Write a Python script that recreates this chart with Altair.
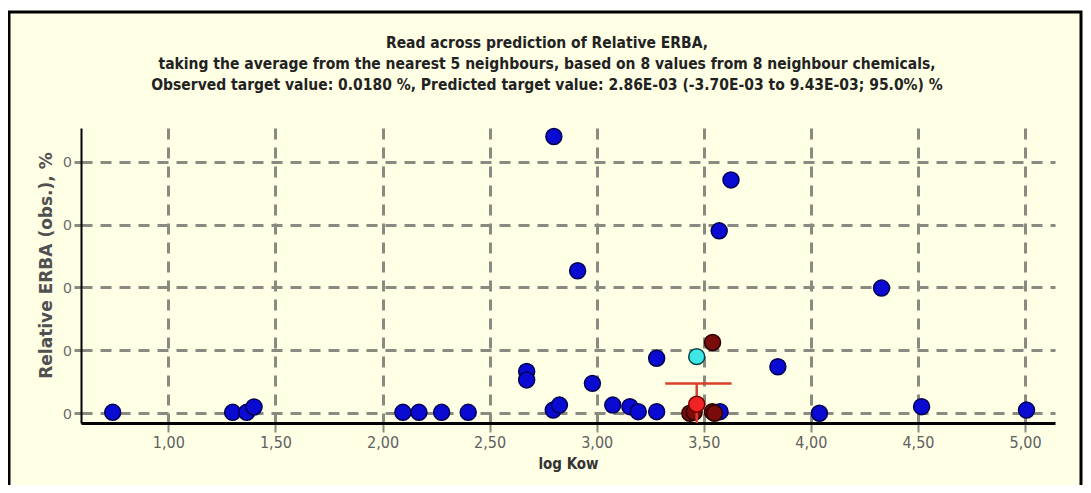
import altair as alt
import pandas as pd

# ---- data ----
blue_x = [0.74, 1.30, 1.366, 1.40, 2.095, 2.17, 2.276, 2.40, 2.673, 2.673,
          2.80, 2.797, 2.826, 2.911, 2.98, 3.075, 3.155, 3.194, 3.28, 3.28,
          3.572, 3.627, 3.576, 3.846, 4.04, 4.33, 4.517, 5.007]
blue_y = [0.0003, 0.0003, 0.0003, 0.002, 0.0003, 0.0003, 0.0003, 0.0003, 0.0133, 0.0106,
          0.088, 0.001, 0.0026, 0.0453, 0.0095, 0.0026, 0.0021, 0.0005, 0.0005, 0.0175,
          0.058, 0.0742, 0.0005, 0.0148, 0.0, 0.0398, 0.0021, 0.001]

neigh_x = [3.435, 3.455, 3.54, 3.55, 3.541]
neigh_y = [0.0, 0.0003, 0.0005, 0.0, 0.0225]

obs_x = [3.467]
obs_y = [0.0180]

pred_x = [3.467]
pred_y = [0.00286]
pred_lo = [-0.0037]
pred_hi = [0.00943]
cap_x1 = [3.32]
cap_x2 = [3.63]

x_ticks = [1.0, 1.5, 2.0, 2.5, 3.0, 3.5, 4.0, 4.5, 5.0]
y_ticks = [0.0, 0.02, 0.04, 0.06, 0.08]

title_lines = [
    "Read across prediction of Relative ERBA,",
    "taking the average from the nearest 5 neighbours, based on 8 values from 8 neighbour chemicals,",
    "Observed target value: 0.0180 %, Predicted target value: 2.86E-03 (-3.70E-03 to 9.43E-03; 95.0%) %",
]

# ---- tables ----
blue = pd.DataFrame({"x": blue_x, "y": blue_y})
neigh = pd.DataFrame({"x": neigh_x, "y": neigh_y})
obs = pd.DataFrame({"x": obs_x, "y": obs_y})
pred = pd.DataFrame({"x": pred_x, "y": pred_y, "lo": pred_lo, "hi": pred_hi,
                     "c1": cap_x1, "c2": cap_x2})
title_df = pd.DataFrame({"t": ["\n".join(title_lines)]})

W, H = 974, 295
BG = "#FFFFE6"
GRID = "#8a8a80"
COND = "Liberation Sans Narrow, DejaVu Sans Condensed, sans-serif"

xscale = alt.Scale(domain=[0.592, 5.14], nice=False, zero=False)
yscale = alt.Scale(domain=[-0.0031, 0.0907], nice=False, zero=False)

xaxis = alt.Axis(
    title="log Kow", values=x_ticks,
    labelExpr="replace(format(datum.value, '.2f'), '.', ',')",
    grid=True, gridColor=GRID, gridDash=[11, 8], gridWidth=3,
    domainColor="black", domainWidth=3,
    tickColor=GRID, tickWidth=2, tickSize=9,
    labelFont=COND, labelFontSize=16, labelColor="#606060", labelPadding=2,
    titleFont=COND, titleFontSize=15, titleFontWeight="bold", titleColor="#333333",
    titlePadding=6,
)
yaxis = alt.Axis(
    title="Relative ERBA (obs.), %", values=y_ticks, format=".0f",
    grid=True, gridColor=GRID, gridDash=[11, 8], gridWidth=3,
    domainColor="black", domainWidth=2,
    tickColor=GRID, tickWidth=3, tickSize=7,
    labelFont="Liberation Sans, Arial, sans-serif", labelFontSize=15,
    labelColor="#666666", labelPadding=3,
    titleFont="DejaVu Sans, sans-serif", titleFontSize=17,
    titleFontWeight="bold", titleColor="#505050", titlePadding=7, titleY=137,
)

frame = alt.Chart(alt.Data(values=[{}])).mark_rect(
    filled=False, stroke="black", strokeWidth=3
).encode(x=alt.value(-72), x2=alt.value(1000), y=alt.value(-116), y2=alt.value(420))

topstrip = alt.Chart(alt.Data(values=[{}])).mark_rect(fill="white").encode(
    x=alt.value(-80), x2=alt.value(1010), y=alt.value(-125), y2=alt.value(-117.5))

title = alt.Chart(title_df).mark_text(
    lineBreak="\n", align="center", baseline="top", lineHeight=21,
    font=COND, fontSize=15.5, fontWeight="bold", color="#222222"
).encode(text="t:N", x=alt.value(466), y=alt.value(-92))

base_blue = alt.Chart(blue).mark_circle(
    size=255, opacity=1, color="#0a0ad2", stroke="#000050", strokeWidth=1.5
).encode(x=alt.X("x:Q", scale=xscale, axis=xaxis),
         y=alt.Y("y:Q", scale=yscale, axis=yaxis))

pt_neigh = alt.Chart(neigh).mark_circle(
    size=255, opacity=1, color="#7a0c0c", stroke="#2a0000", strokeWidth=1.5
).encode(x="x:Q", y="y:Q")

err_v = alt.Chart(pred).mark_rule(color="#d8402c", strokeWidth=2.5, clip=True).encode(
    x="x:Q", y="lo:Q", y2="hi")
err_cap = alt.Chart(pred).mark_rule(color="#d8402c", strokeWidth=2.5).encode(
    x="c1:Q", x2="c2", y="hi:Q")

pt_obs = alt.Chart(obs).mark_circle(
    size=255, opacity=1, color="#3ee6e6", stroke="#004848", strokeWidth=1.5
).encode(x="x:Q", y="y:Q")

pt_pred = alt.Chart(pred).mark_circle(
    size=255, opacity=1, color="#f02424", stroke="#7a0000", strokeWidth=1.5
).encode(x="x:Q", y="y:Q")

chart = alt.layer(
    topstrip, frame, title, base_blue, pt_neigh, err_v, err_cap, pt_obs, pt_pred
).properties(
    width=W, height=H,
    autosize=alt.AutoSizeParams(type="none"),
    padding={"left": 73, "top": 120, "right": 28, "bottom": 62},
).configure(background=BG).configure_view(stroke=None)

chart.save("out.html", embed_options={"renderer": "svg", "actions": False})
